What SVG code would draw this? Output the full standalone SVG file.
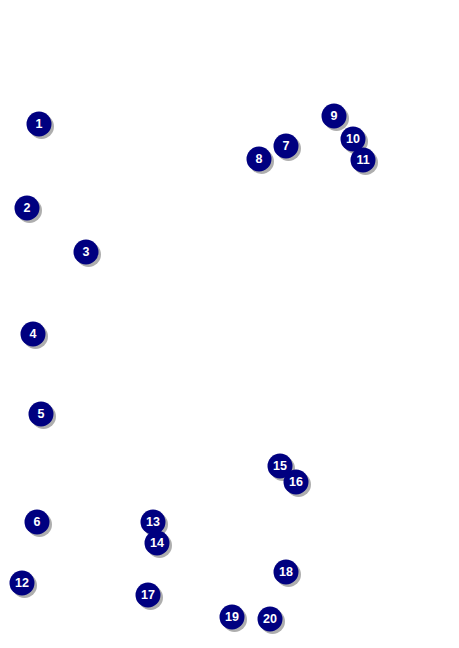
<svg xmlns="http://www.w3.org/2000/svg" width="459" height="648" viewBox="0 0 459 648">
<style>
.sh{fill:#9a9a9a;opacity:0.8}
.c{fill:#000080}
.t{fill:#fff;font-family:"Liberation Sans",Arial,sans-serif;font-weight:bold;font-size:12.5px;text-anchor:middle;dominant-baseline:central}
</style>
<defs>
<g id="b"><circle class="sh" cx="2.5" cy="2.5" r="12.5"/><circle class="c" r="12.5"/></g>
</defs>
<rect width="459" height="648" fill="#fff"/>
<g id="n1" transform="translate(39,124)"><use href="#b"/><text class="t">1</text></g>
<g id="n2" transform="translate(27,208)"><use href="#b"/><text class="t">2</text></g>
<g id="n3" transform="translate(86,252)"><use href="#b"/><text class="t">3</text></g>
<g id="n4" transform="translate(33,334)"><use href="#b"/><text class="t">4</text></g>
<g id="n5" transform="translate(41,414)"><use href="#b"/><text class="t">5</text></g>
<g id="n6" transform="translate(37,522)"><use href="#b"/><text class="t">6</text></g>
<g id="n7" transform="translate(286,146)"><use href="#b"/><text class="t">7</text></g>
<g id="n8" transform="translate(259,159)"><use href="#b"/><text class="t">8</text></g>
<g id="n9" transform="translate(334,116)"><use href="#b"/><text class="t">9</text></g>
<g id="n10" transform="translate(353,139)"><use href="#b"/><text class="t">10</text></g>
<g id="n11" transform="translate(363,160)"><use href="#b"/><text class="t">11</text></g>
<g id="n12" transform="translate(22,583)"><use href="#b"/><text class="t">12</text></g>
<g id="n13" transform="translate(153,522)"><use href="#b"/><text class="t">13</text></g>
<g id="n14" transform="translate(157,543)"><use href="#b"/><text class="t">14</text></g>
<g id="n15" transform="translate(280,466)"><use href="#b"/><text class="t">15</text></g>
<g id="n16" transform="translate(296,482)"><use href="#b"/><text class="t">16</text></g>
<g id="n17" transform="translate(148,595)"><use href="#b"/><text class="t">17</text></g>
<g id="n18" transform="translate(286,572)"><use href="#b"/><text class="t">18</text></g>
<g id="n19" transform="translate(232,617)"><use href="#b"/><text class="t">19</text></g>
<g id="n20" transform="translate(270,619)"><use href="#b"/><text class="t">20</text></g>
<g id="connectors"/>
</svg>
